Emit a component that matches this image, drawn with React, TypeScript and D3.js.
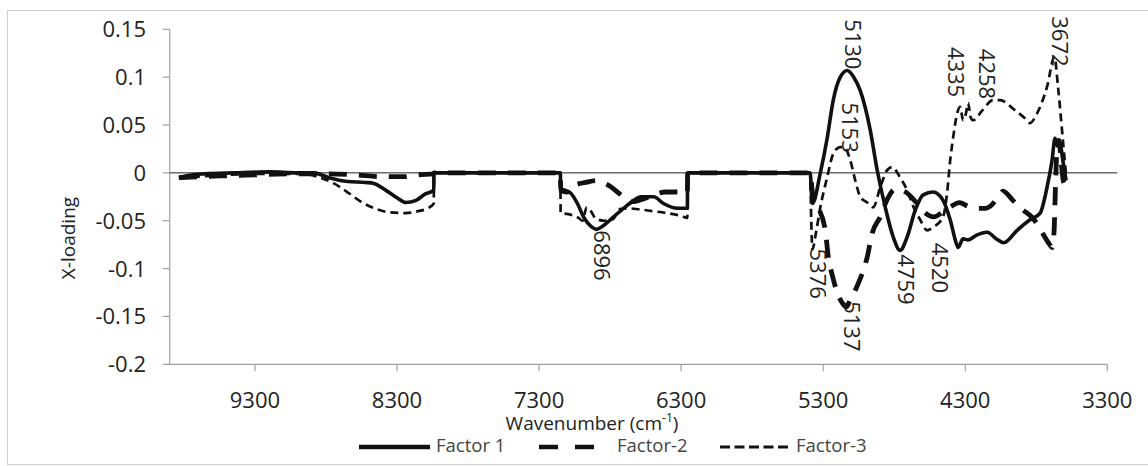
import React from 'react';
import * as d3 from 'd3';

const W = 1148;
const H = 466;

// Axis ticks
const xTicks = [9300, 8300, 7300, 6300, 5300, 4300, 3300];
const yTicks = [0.15, 0.1, 0.05, 0, -0.05, -0.1, -0.15, -0.2];

// Factor 1 loadings (wavenumber, cm-1 / X-loading)
const f1Wave = [9835, 9780, 9650, 9450, 9200, 9000, 8885, 8780, 8646, 8520, 8463, 8380, 8300, 8238, 8170, 8100, 8041, 8040,
  7150, 7148, 7078, 7030, 6987, 6924, 6896, 6846, 6776, 6705, 6635, 6586, 6494, 6424, 6326, 6256, 6254,
  5392, 5376, 5320, 5271, 5229, 5180, 5130, 5085, 5039, 4969, 4920, 4863, 4807, 4759, 4709, 4652, 4596, 4526,
  4455, 4406, 4360, 4350, 4315, 4280, 4220, 4146, 4080, 4030, 3935, 3844, 3773, 3724, 3689, 3668, 3650, 3633, 3612, 3590];
const f1Load = [-0.005, -0.003, -0.001, 0, 0.001, 0, 0, -0.005, -0.009, -0.01, -0.011, -0.018, -0.026, -0.031, -0.029, -0.022, -0.018, 0,
  0, -0.016, -0.021, -0.032, -0.046, -0.057, -0.059, -0.055, -0.046, -0.037, -0.029, -0.025, -0.025, -0.032, -0.037, -0.037, 0,
  0, -0.032, 0, 0.037, 0.076, 0.1, 0.107, 0.1, 0.086, 0.045, 0.003, -0.036, -0.067, -0.081, -0.067, -0.039, -0.023, -0.02,
  -0.029, -0.049, -0.075, -0.078, -0.069, -0.07, -0.065, -0.062, -0.069, -0.073, -0.06, -0.049, -0.042, -0.015, 0.013, 0.036, 0.028, 0.03, 0.012, -0.008];

// Factor-2 loadings
const f2Wave = [9835, 9700, 9500, 9300, 9000, 8800, 8600, 8400, 8250, 8150, 8041, 8040,
  7150, 7148, 7100, 7050, 6973, 6900, 6850, 6800, 6748, 6690, 6630, 6560, 6494, 6410, 6330, 6256, 6254,
  5392, 5376, 5341, 5285, 5264, 5236, 5201, 5170, 5137, 5110, 5060, 5025, 4990, 4955, 4898, 4850, 4793,
  4720, 4650, 4580, 4520, 4460, 4400, 4340, 4280, 4220, 4160, 4110, 4055, 4034, 3963, 3900, 3820, 3760,
  3710, 3689, 3675, 3664, 3652, 3640, 3625, 3610, 3598];
const f2Load = [-0.005, -0.004, -0.003, -0.002, -0.001, -0.001, -0.002, -0.004, -0.004, -0.002, -0.001, 0,
  0, -0.018, -0.02, -0.013, -0.01, -0.008, -0.01, -0.014, -0.02, -0.027, -0.03, -0.027, -0.023, -0.02, -0.02, -0.021, 0,
  0, -0.02, -0.034, -0.06, -0.088, -0.107, -0.125, -0.135, -0.14, -0.133, -0.118, -0.105, -0.088, -0.063, -0.046, -0.028, -0.017,
  -0.02, -0.03, -0.042, -0.046, -0.041, -0.035, -0.031, -0.035, -0.037, -0.037, -0.033, -0.022, -0.019, -0.029, -0.038, -0.048, -0.062,
  -0.074, -0.078, -0.062, -0.01, 0.03, 0.034, 0.012, -0.008, -0.012];

// Factor-3 loadings
const f3Wave = [9835, 9700, 9500, 9200, 8950, 8860, 8744, 8650, 8555, 8460, 8365, 8238, 8150, 8084, 8041, 8040,
  7150, 7148, 7100, 7022, 6994, 6965, 6935, 6900, 6840, 6776, 6740, 6680, 6600, 6500, 6400, 6300, 6256, 6254,
  5392, 5384, 5376, 5350, 5320, 5271, 5229, 5180, 5153, 5109, 5074, 5039, 4990, 4948, 4898, 4849, 4814, 4758,
  4709, 4666, 4617, 4568, 4520, 4477, 4455, 4427, 4406, 4385, 4357, 4336, 4315, 4295, 4280, 4262, 4244, 4181,
  4104, 4055, 3963, 3880, 3844, 3795, 3724, 3672, 3647, 3619, 3598, 3588];
const f3Load = [-0.006, -0.004, -0.002, -0.001, -0.001, -0.004, -0.011, -0.02, -0.03, -0.037, -0.041, -0.042, -0.04, -0.037, -0.032, 0,
  0, -0.042, -0.043, -0.047, -0.05, -0.036, -0.04, -0.048, -0.05, -0.048, -0.038, -0.037, -0.038, -0.04, -0.042, -0.045, -0.047, 0,
  0, -0.05, -0.08, -0.062, -0.036, -0.004, 0.02, 0.027, 0.027, 0.013, -0.008, -0.025, -0.031, -0.036, -0.015, 0.003, 0.006, -0.005,
  -0.018, -0.035, -0.049, -0.06, -0.056, -0.051, -0.046, -0.02, 0.013, 0.037, 0.062, 0.069, 0.055, 0.062, 0.073, 0.058, 0.055, 0.065,
  0.076, 0.076, 0.067, 0.057, 0.052, 0.062, 0.09, 0.121, 0.09, 0.045, 0.01, -0.005];

const seriesNames = ['Factor 1', 'Factor-2', 'Factor-3'];

// Band annotations: wavenumber, loading at the annotated point, side of the curve
const bandWaves = [5130, 5153, 4335, 4258, 3672, 5376, 5137, 4759, 4520, 6896];
const bandLoads = [0.107, 0.02, 0.078, 0.076, 0.11, -0.078, -0.133, -0.084, -0.072, -0.059];
const bandSides = ['above', 'above', 'above', 'above', 'above', 'below', 'below', 'below', 'below', 'below'];

const FONT = "'Open Sans', 'DejaVu Sans', sans-serif";
const LABEL_SIZE = 22;
const LABEL_LEN = 52; // approximate length of a rotated four-digit label
const LABEL_GAP = 31; // minimum spacing between neighbouring rotated labels

export default function App() {
  const x = d3.scaleLinear().domain([9900, 3300]).range([169.7, 1107.3]);
  const y = d3.scaleLinear().domain([-0.2, 0.15]).range([364.3, 29.3]);

  const line = d3
    .line<[number, number]>()
    .x((d) => x(d[0]))
    .y((d) => y(d[1]))
    .curve(d3.curveMonotoneX);

  const pts = (w: number[], l: number[]) => w.map((v, i) => [v, l[i]] as [number, number]);

  const styles = [
    { stroke: '#111', width: 3.6, dash: undefined as string | undefined },
    { stroke: '#111', width: 4.8, dash: '18,12' },
    { stroke: '#111', width: 2.7, dash: '8,5' },
  ];
  const paths = [pts(f1Wave, f1Load), pts(f2Wave, f2Load), pts(f3Wave, f3Load)];

  const [x0, x1] = x.range();
  const yBottom = y.range()[0];
  const yTop = y.range()[1];

  // Rotated annotation placement, spreading labels that would collide
  const labels = bandWaves.map((w, i) => {
    const above = bandSides[i] === 'above';
    const py = y(bandLoads[i]) + (above ? -1 : 1);
    return {
      text: String(w),
      above,
      px: x(w) - 2,
      py,
      top: above ? py - LABEL_LEN : py,
      bottom: above ? py : py + LABEL_LEN,
    };
  });
  for (let i = 0; i < labels.length; i++) {
    for (let j = i + 1; j < labels.length; j++) {
      const a = labels[i];
      const b = labels[j];
      if (a.above !== b.above) continue;
      const vOverlap = a.top < b.bottom && b.top < a.bottom;
      if (!vOverlap || Math.abs(a.px - b.px) >= LABEL_GAP) continue;
      const mid = (a.px + b.px) / 2;
      const left = a.px <= b.px ? a : b;
      const right = left === a ? b : a;
      left.px = mid - LABEL_GAP / 2;
      right.px = mid + LABEL_GAP / 2;
    }
  }

  const legend = [
    { lx1: 359, lx2: 430, tx: 436 },
    { lx1: 539, lx2: 595, tx: 617 },
    { lx1: 720, lx2: 788, tx: 796 },
  ];

  return (
    <svg
      width={W}
      height={H}
      style={{ position: 'absolute', left: 0, top: 0, background: '#fff' }}
      fontFamily={FONT}
    >
      <rect x={7.5} y={10.5} width={1150} height={454} fill="#fff" stroke="#cfcfcf" strokeWidth={1} />

      {/* y axis */}
      <line x1={x0} x2={x0} y1={yTop} y2={yBottom} stroke="#a0a0a0" strokeWidth={1.2} />
      {yTicks.map((t) => (
        <g key={t}>
          <line x1={x0 - 7} x2={x0} y1={y(t)} y2={y(t)} stroke="#a0a0a0" strokeWidth={1.2} />
          <text x={146} y={y(t) + 8} textAnchor="end" fontSize={22} fill="#222">
            {String(t)}
          </text>
        </g>
      ))}

      {/* x axis */}
      <line x1={x0 - 2} x2={x1} y1={yBottom} y2={yBottom} stroke="#a0a0a0" strokeWidth={1.2} />
      {xTicks.map((t) => (
        <g key={t}>
          <line x1={x(t)} x2={x(t)} y1={yBottom} y2={yBottom + 7} stroke="#a0a0a0" strokeWidth={1.2} />
          <text x={x(t)} y={408} textAnchor="middle" fontSize={22} fill="#222">
            {t}
          </text>
        </g>
      ))}

      {/* zero line */}
      <line x1={x0} x2={x1 + 10} y1={y(0)} y2={y(0)} stroke="#222" strokeWidth={1} />

      {/* loading curves */}
      {paths.map((p, i) => (
        <path
          key={i}
          d={line(p) || ''}
          fill="none"
          stroke={styles[i].stroke}
          strokeWidth={styles[i].width}
          strokeDasharray={styles[i].dash}
          strokeLinejoin="round"
        />
      ))}

      {/* band annotations */}
      {labels.map((l) => (
        <text
          key={l.text}
          transform={`translate(${l.px},${l.py}) rotate(90)`}
          textAnchor={l.above ? 'end' : 'start'}
          fontSize={LABEL_SIZE}
          fill="#222"
        >
          {l.text}
        </text>
      ))}

      {/* axis titles */}
      <text transform={`translate(75,238) rotate(-90)`} textAnchor="middle" fontSize={19} fill="#222">
        X-loading
      </text>
      <text x={592} y={430} textAnchor="middle" fontSize={19} fill="#222">
        Wavenumber (cm
        <tspan fontSize={12} dy={-8}>-1</tspan>
        <tspan dy={8}>)</tspan>
      </text>

      {/* legend */}
      {seriesNames.map((name, i) => (
        <g key={name}>
          <line
            x1={legend[i].lx1}
            x2={legend[i].lx2}
            y1={447}
            y2={447}
            stroke="#111"
            strokeWidth={i === 2 ? 3 : 4.5}
            strokeDasharray={i === 0 ? undefined : i === 1 ? '19,17' : '10,4.5'}
          />
          <text x={legend[i].tx} y={452} fontSize={18.5} fill="#444">
            {name}
          </text>
        </g>
      ))}
    </svg>
  );
}
